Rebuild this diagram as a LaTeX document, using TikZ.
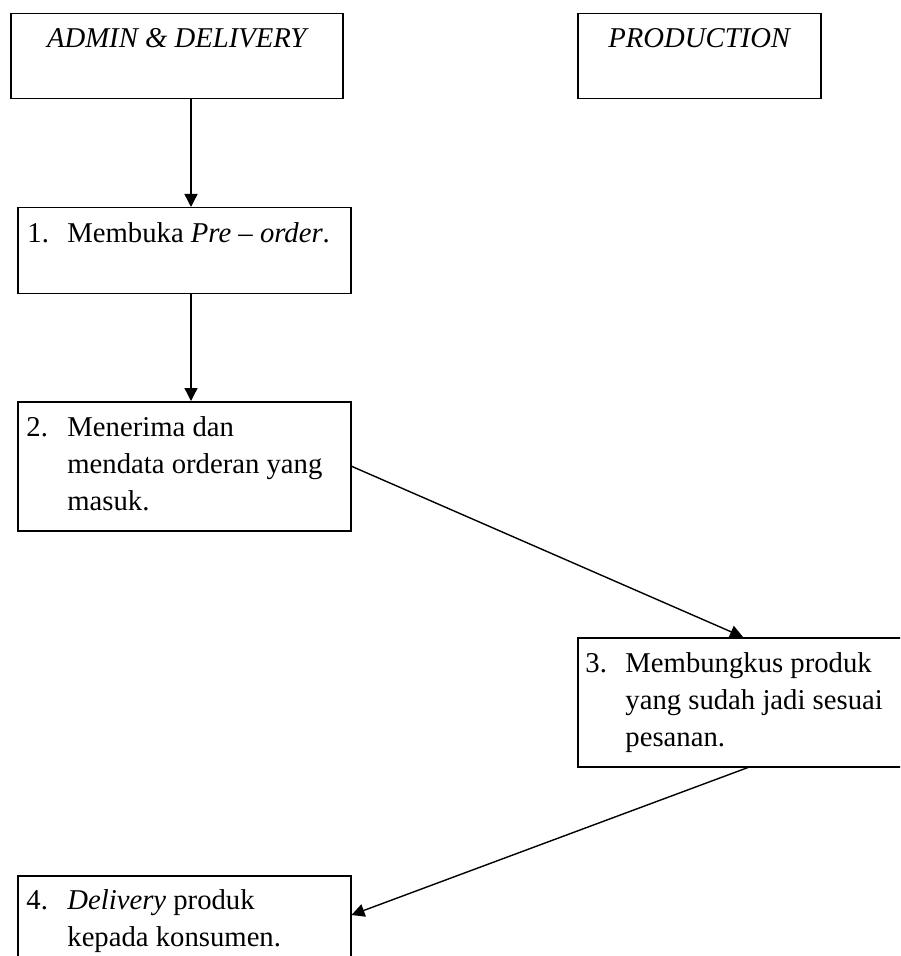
\documentclass[tikz,border=0pt]{standalone}
\usepackage{fontspec}
\setmainfont{Liberation Serif}
\usetikzlibrary{arrows.meta,calc}
\begin{document}
\begin{tikzpicture}[x=0.5pt,y=-0.5pt,
  box/.style={draw, line width=0.75pt, rectangle, inner sep=0pt, anchor=north west},
  lbl/.style={inner sep=0pt, anchor=base west, font=\fontsize{14.35pt}{18.5pt}\selectfont},
  ttl/.style={inner sep=0pt, anchor=base, font=\fontsize{14.35pt}{18.5pt}\selectfont\itshape},
  arr/.style={-{Triangle[length=6.5pt,width=6.5pt]}, line width=0.7pt}]
\useasboundingbox (0,0) rectangle (900,956);
\clip (0,0) rectangle (900,956);

% boxes
\node[box, minimum width=166pt, minimum height=42.5pt] (A) at (10,13) {};
\node[box, minimum width=121.5pt, minimum height=42.5pt] (P) at (577,13) {};
\node[box, minimum width=166.5pt, minimum height=43pt] (b1) at (17,207) {};
\node[box, minimum width=166.5pt, minimum height=64.5pt] (b2) at (17,401) {};
\node[box, minimum width=175pt, minimum height=64.5pt] (b3) at (577,637) {};
\node[box, minimum width=166.5pt, minimum height=64.5pt] (b4) at (17,875) {};

% titles
\node[ttl] (tA) at ($(A.north)+(0,35)$) {ADMIN \& DELIVERY};
\node[ttl] (tP) at ($(P.north)+(0,35)$) {PRODUCTION};

% step texts
\node[lbl] (n1) at ($(b1.north west)+(10,36)$) {1.};
\node[lbl] (t1) at ($(b1.north west)+(50,36)$) {Membuka \textit{Pre – order}.};

\node[lbl] (n2) at ($(b2.north west)+(9,35)$) {2.};
\node[lbl] (t2) at ($(b2.north west)+(50,35)$) {\parbox[t]{150pt}{Menerima dan\\mendata orderan yang\\masuk.}};

\node[lbl] (n3) at ($(b3.north west)+(8,35)$) {3.};
\node[lbl] (t3) at ($(b3.north west)+(48,35)$) {\parbox[t]{150pt}{Membungkus produk\\yang sudah jadi sesuai\\pesanan.}};

\node[lbl] (n4) at ($(b4.north west)+(9,34)$) {4.};
\node[lbl] (t4) at ($(b4.north west)+(50,34)$) {\parbox[t]{150pt}{\textit{Delivery} produk\\kepada konsumen.}};

% connectors
\coordinate (cx1) at (191,0);
\coordinate (cx3) at (743,0);
\coordinate (cx4) at (748,0);
\coordinate (cy4) at (0,915);
\draw[arr] (A.south -| cx1) -- (b1.north -| cx1);
\draw[arr] (b1.south -| cx1) -- (b2.north -| cx1);
\draw[arr] (b2.east) -- (b3.north -| cx3);
\draw[arr] (b3.south -| cx4) -- (b4.east |- cy4);
\end{tikzpicture}
\end{document}
